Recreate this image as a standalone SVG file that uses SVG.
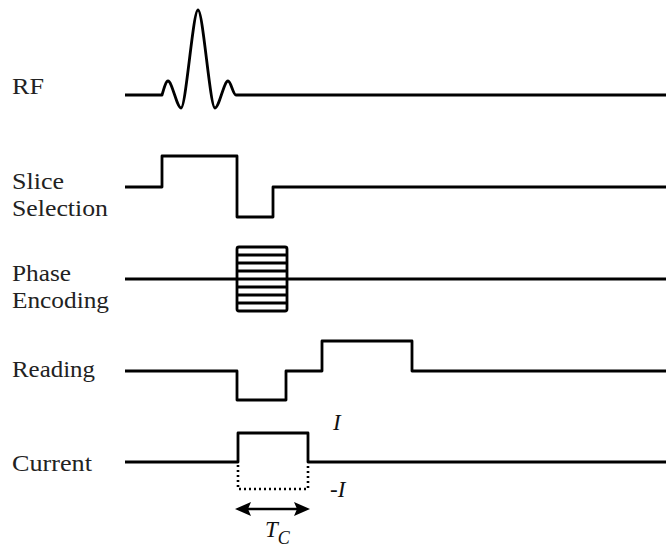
<svg xmlns="http://www.w3.org/2000/svg" width="666" height="550" viewBox="0 0 666 550">
<style>
.sig{fill:none;stroke:#000;stroke-width:2.8;stroke-linejoin:round}
.lbl{font-family:'Liberation Serif','Times New Roman',Times,serif;font-size:23px;fill:#222}
.it{font-family:'Liberation Serif','Times New Roman',Times,serif;font-style:italic;font-size:23px;fill:#111}
.dot{fill:none;stroke:#000;stroke-width:2.6;stroke-dasharray:2 3}
.head{fill:#000;stroke:none}
</style>
<rect width="666" height="550" fill="#fff"/>
<g id="rf">
<text class="lbl" x="12" y="94" textLength="32" lengthAdjust="spacingAndGlyphs">RF</text>
<path class="sig" d="M125,95 L162,95 C164,88 166,81 168,81 C172,81 177,108 181,108 C186,108 193,10 198,10 C203,10 210,108 215,108 C219,108 224,81 228,81 C231,81 233,95 236,95 L666,95"/>
</g>
<g id="slice">
<text class="lbl" x="12" y="189" textLength="52" lengthAdjust="spacingAndGlyphs">Slice</text>
<text class="lbl" x="12" y="216" textLength="96" lengthAdjust="spacingAndGlyphs">Selection</text>
<path class="sig" d="M125,187 L162,187 L162,156 L237,156 L237,217 L273,217 L273,187 L666,187"/>
</g>
<g id="phase">
<text class="lbl" x="12" y="281" textLength="59" lengthAdjust="spacingAndGlyphs">Phase</text>
<text class="lbl" x="12" y="308" textLength="97" lengthAdjust="spacingAndGlyphs">Encoding</text>
<path class="sig" d="M125,279 L237,279 M287,279 L666,279"/>
<rect class="sig" x="237" y="247" width="50" height="64" rx="2"/>
<path class="sig" stroke-width="2.2" d="M237,255 H287 M237,263 H287 M237,271 H287 M237,279 H287 M237,287 H287 M237,295 H287 M237,303 H287"/>
</g>
<g id="reading">
<text class="lbl" x="12" y="377" textLength="83" lengthAdjust="spacingAndGlyphs">Reading</text>
<path class="sig" d="M125,371 L237,371 L237,400 L286,400 L286,371 L322,371 L322,341 L412,341 L412,371 L666,371"/>
</g>
<g id="current">
<text class="lbl" x="12" y="471" textLength="80" lengthAdjust="spacingAndGlyphs">Current</text>
<path class="sig" d="M125,462 L238,462 L238,433 L308,433 L308,462 L666,462"/>
<path class="dot" d="M238,465 L238,489 L308,489 L308,465"/>
<text class="it" x="333" y="430">I</text>
<text class="it" x="330" y="497">-I</text>
<text class="it" x="265" y="537">T<tspan font-size="18" dy="7">C</tspan></text>
</g>
<g id="connectors">
<line x1="245" y1="509" x2="300" y2="509" stroke="#000" stroke-width="2.6"/>
<path class="head" d="M235,509 L251,502 L248,509 L251,516 Z"/>
<path class="head" d="M310,509 L294,502 L297,509 L294,516 Z"/>
</g>
</svg>
